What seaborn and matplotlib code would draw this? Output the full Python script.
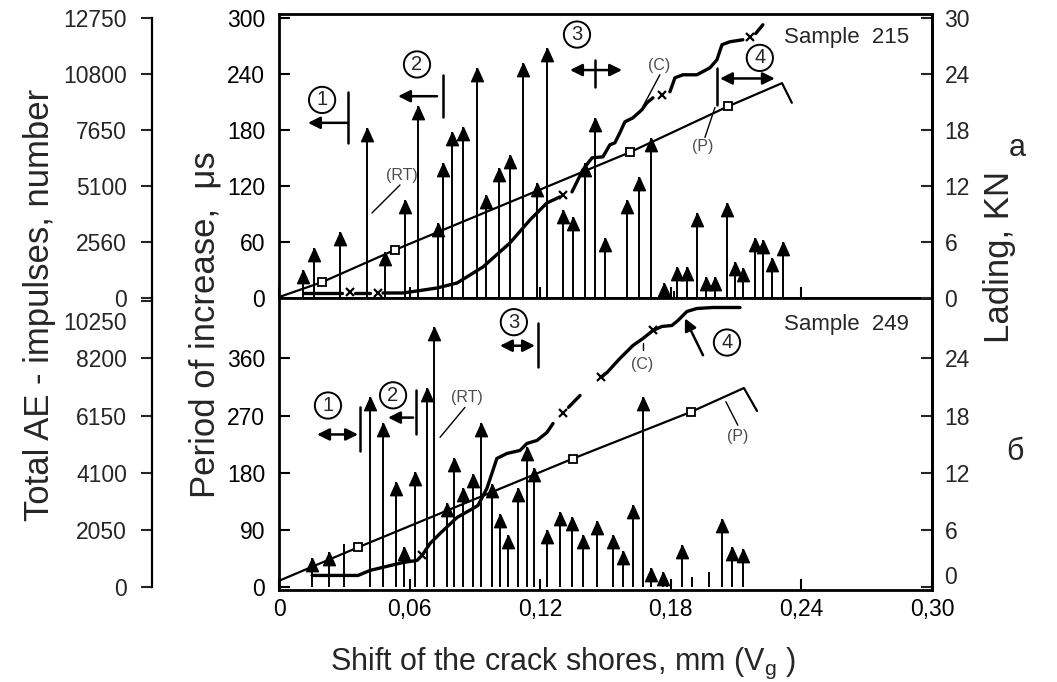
import numpy as np
import pandas as pd
import matplotlib
matplotlib.use("Agg")
import matplotlib.pyplot as plt
import matplotlib.transforms as mtrans
import seaborn as sns

# ---------------- data ----------------
# x axis: shift of crack shores, mm
x_ticks = [0, 0.06, 0.12, 0.18, 0.24, 0.30]
x_ticklabels = ["0", "0,06", "0,12", "0,18", "0,24", "0,30"]

# --- Sample 215 (top panel) ---
rt215_x = [0.0110, 0.0161, 0.0280, 0.0404, 0.0487, 0.0579, 0.0638, 0.0730, 0.0753, 0.0795,
           0.0845, 0.0910, 0.0951, 0.1011, 0.1061, 0.1121, 0.1185, 0.1231, 0.1305, 0.1350,
           0.1406, 0.1452, 0.1497, 0.1599, 0.1654, 0.1709, 0.1768, 0.1828, 0.1874, 0.1920,
           0.1961, 0.2003, 0.2058, 0.2095, 0.2131, 0.2187, 0.2223, 0.2265, 0.2315]
rt215_v = [30, 53, 71, 182, 49, 105, 205, 80, 144, 178,
           183, 246, 110, 139, 153, 252, 123, 268, 94, 87,
           145, 193, 64, 105, 130, 171, 16, 33, 33, 91,
           22, 22, 102, 39, 32, 64, 62, 43, 60]
stem215_x = [0.1814]
stem215_v = [8]

p215_x = [0.0, 0.0198, 0.0533, 0.1612, 0.2062, 0.2311, 0.2356]
p215_L = [0.1, 1.7, 5.15, 15.6, 20.5, 23.0, 20.9]
p215_sq = [1, 2, 3, 4]

c215_x = [0.0110, 0.0289,
          0.0349, 0.0418,
          0.0478, 0.0570, 0.0726, 0.0818, 0.0937, 0.1061, 0.1153, 0.1231, 0.1291,
          0.1346, 0.1396, 0.1438, 0.1488, 0.1520, 0.1543, 0.1566, 0.1589, 0.1626, 0.1667, 0.1690, 0.1718,
          0.1796, 0.1819, 0.1856, 0.1920, 0.1980, 0.2012, 0.2035, 0.2072, 0.2131,
          0.2190, 0.2223]
c215_ae = [228, 228,
           240, 240,
           228, 228, 455, 683, 1412, 2505, 3552, 4326, 4600,
           4827, 5829, 6376, 6421, 6968, 7059, 7514, 8015, 8197, 8562, 8880, 9108,
           9381, 10019, 10155, 10155, 10474, 10839, 11522, 11658, 11749,
           12030, 12430]
c215_seg = [0, 0,
            1, 1,
            2, 2, 2, 2, 2, 2, 2, 2, 2,
            3, 3, 3, 3, 3, 3, 3, 3, 3, 3, 3, 3,
            4, 4, 4, 4, 4, 4, 4, 4, 4,
            5, 5]
c215_mark_x = [0.0326, 0.0455, 0.1305, 0.1759, 0.2164]
c215_mark_ae = [273, 228, 4690, 9245, 11886]

# --- Sample 249 (bottom panel) ---
rt249_x = [0.0152, 0.0230, 0.0418, 0.0478, 0.0537, 0.0574, 0.0625, 0.0680, 0.0712, 0.0772,
           0.0804, 0.0845, 0.0891, 0.0928, 0.0978, 0.1015, 0.1052, 0.1098, 0.1139, 0.1171,
           0.1231, 0.1291, 0.1346, 0.1396, 0.1461, 0.1534, 0.1580, 0.1626, 0.1672, 0.1709,
           0.1764, 0.1851, 0.2035, 0.2081, 0.2131]
rt249_v = [47, 55, 299, 258, 165, 63, 181, 313, 409, 132,
           204, 156, 179, 258, 163, 116, 82, 156, 220, 187,
           90, 118, 110, 83, 105, 82, 58, 129, 299, 31,
           24, 66, 108, 63, 61]
stem249_x = [0.0299, 0.1782, 0.1897, 0.1975]
stem249_v = [69, 12, 16, 24]

p249_x = [0.0, 0.0363, 0.1350, 0.1893, 0.2136, 0.2196]
p249_L = [0.7, 4.2, 13.5, 18.4, 20.9, 18.5]
p249_sq = [1, 2, 3]

c249_x = [0.0152, 0.0363, 0.0418, 0.0570, 0.0634, 0.0657, 0.0694, 0.0740, 0.0818, 0.0891,
          0.0914, 0.0955, 0.1001, 0.1047, 0.1107, 0.1139, 0.1185, 0.1231, 0.1259,
          0.1330, 0.1383,
          0.1479, 0.1507, 0.1566, 0.1626, 0.1672, 0.1718, 0.1759, 0.1805, 0.1833, 0.1874,
          0.1920, 0.1994, 0.2118]
c249_ae = [430, 430, 609, 895, 967, 1146, 1575, 1933, 2506, 2828,
           2936, 3544, 4618, 4797, 4905, 5155, 5263, 5549, 5871,
           6450, 6874,
           7518, 7697, 8198, 8664, 8914, 9201, 9344, 9380, 9559, 9881,
           9988, 10024, 10024]
c249_seg = [0] * 19 + [1] * 2 + [2] * 13
c249_mark_x = [0.0657, 0.1305, 0.1479, 0.1718]
c249_mark_ae = [1146, 6229, 7518, 9201]

# axis ticks
per215_ticks = [0, 60, 120, 180, 240, 300]
lad215_ticks = [0, 6, 12, 18, 24, 30]
ae215_labels = ["0", "2560", "5100", "7650", "10800", "12750"]
per249_ticks = [0, 90, 180, 270, 360]
lad249_ticks = [0, 6, 12, 18, 24]
ae249_ticks = [0, 2050, 4100, 6150, 8200, 10250]

# scale ratios between axes of each panel
AE_PER_215 = 12750 / 300
LAD_PER_215 = 30 / 300
AE_PER_249 = 8200 / 360
LAD_PER_249 = 24 / 360

# ---------------- style ----------------
sns.set_theme(style="white")
plt.rcParams["font.family"] = ["Liberation Sans", "DejaVu Sans"]
plt.rcParams["mathtext.fontset"] = "custom"
plt.rcParams["mathtext.rm"] = "Liberation Sans"
plt.rcParams["mathtext.it"] = "Liberation Sans"
plt.rcParams["axes.edgecolor"] = "black"
plt.rcParams["axes.linewidth"] = 1.8

TICK_FS = 16.5
HEAD = [(0, 0), (-0.45, -1.0), (0.45, -1.0), (0, 0)]

fig = plt.figure(figsize=(10.57, 6.82), dpi=100)
W_PX, H_PX = 1057, 682
L = 279 / W_PX
R = 932 / W_PX
mid = 1 - 298 / H_PX
top = 1 - 14 / H_PX
bot = 1 - 590 / H_PX

ax_t = fig.add_axes([L, mid, R - L, top - mid])
ax_b = fig.add_axes([L, bot, R - L, mid - bot])

per_lim_t = (0, 304)
per_lim_b = (-4, 455)


def setup_panel(ax, per_lim, per_ticks, lad_ticks, lad_ratio, ae_ratio, ae_pos, ae_labels, show_x):
    ax.set_xlim(0, 0.30)
    ax.set_ylim(*per_lim)
    ax.set_xticks(x_ticks)
    ax.set_xticklabels(x_ticklabels if show_x else [])
    ax.set_yticks(per_ticks)
    ax.set_yticklabels([str(t) for t in per_ticks])
    ax.tick_params(axis="both", direction="in", length=8, width=1.5, labelsize=TICK_FS,
                   colors="black")
    ax.tick_params(axis="y", pad=10)
    ax.tick_params(axis="x", pad=6, bottom=True, labelbottom=show_x)
    for s in ax.spines.values():
        s.set_linewidth(2.0)
        s.set_color("black")

    axl = ax.twinx()
    axl.set_ylim(per_lim[0] * lad_ratio, per_lim[1] * lad_ratio)
    axl.set_yticks(lad_ticks)
    axl.set_yticklabels([str(t) for t in lad_ticks])
    axl.tick_params(axis="y", direction="in", length=8, width=1.5, labelsize=TICK_FS, pad=9,
                    right=True)
    for s in axl.spines.values():
        s.set_visible(False)
    axl.spines["right"].set_visible(True)
    axl.spines["right"].set_linewidth(2.0)
    axl.grid(False)

    axa = ax.twinx()
    axa.set_ylim(per_lim[0] * ae_ratio, per_lim[1] * ae_ratio)
    axa.yaxis.set_ticks_position("left")
    axa.yaxis.set_label_position("left")
    for s in axa.spines.values():
        s.set_visible(False)
    axa.spines["left"].set_visible(True)
    axa.spines["left"].set_position(("outward", 127 * 72 / 100))
    axa.spines["left"].set_linewidth(1.6)
    axa.set_yticks(ae_pos)
    axa.set_yticklabels(ae_labels)
    axa.tick_params(axis="y", direction="out", length=8, width=1.5, labelsize=TICK_FS, pad=10,
                    left=True, right=False, labelleft=True, labelright=False)
    axa.grid(False)
    return axl, axa


ae215_pos = [t * AE_PER_215 for t in per215_ticks]
axl_t, axa_t = setup_panel(ax_t, per_lim_t, per215_ticks, lad215_ticks, LAD_PER_215,
                           AE_PER_215, ae215_pos, ae215_labels, False)
axl_b, axa_b = setup_panel(ax_b, per_lim_b, per249_ticks, lad249_ticks, LAD_PER_249,
                           AE_PER_249, ae249_ticks, [str(t) for t in ae249_ticks], True)
axa_t.spines["left"].set_bounds(0, ae215_pos[-1])
axa_b.spines["left"].set_bounds(0, per_lim_b[1] * AE_PER_249)

# shift crowded labels (as in the reference)
for lbl in axa_b.get_yticklabels():
    if lbl.get_text() == "10250":
        lbl.set_transform(lbl.get_transform() +
                          mtrans.ScaledTranslation(0, -14 / 72, fig.dpi_scale_trans))
for lbl in axl_b.get_yticklabels():
    if lbl.get_text() == "0":
        lbl.set_transform(lbl.get_transform() +
                          mtrans.ScaledTranslation(0, 9 / 72, fig.dpi_scale_trans))


def draw_arrows(ax, xs, vs, sx, sv):
    ax.vlines(xs, 0, vs, color="black", lw=1.4, zorder=2)
    ax.vlines(sx, 0, sv, color="black", lw=1.4, zorder=2)
    ax.plot(xs, vs, ls="none", marker=HEAD, ms=19, color="black", mec="black", zorder=3)


draw_arrows(ax_t, rt215_x, rt215_v, stem215_x, stem215_v)
draw_arrows(ax_b, rt249_x, rt249_v, stem249_x, stem249_v)


def draw_load(axl, xs, ls, sq):
    sns.lineplot(x=xs, y=ls, ax=axl, color="black", lw=1.6, legend=False)
    axl.plot([xs[i] for i in sq], [ls[i] for i in sq], ls="none", marker="s", ms=6,
             mfc="white", mec="black", mew=1.3, zorder=4)


draw_load(axl_t, p215_x, p215_L, p215_sq)
draw_load(axl_b, p249_x, p249_L, p249_sq)


def draw_cum(axa, xs, ys, seg, mx, my):
    df = pd.DataFrame({"x": xs, "y": ys, "seg": seg})
    sns.lineplot(data=df, x="x", y="y", units="seg", estimator=None, ax=axa,
                 color="black", lw=2.4, legend=False)
    axa.plot(mx, my, ls="none", marker="x", ms=6, mew=1.6, color="black", zorder=4)
    axa.set_xlabel("")
    axa.set_ylabel("")


draw_cum(axa_t, c215_x, c215_ae, c215_seg, c215_mark_x, c215_mark_ae)
draw_cum(axa_b, c249_x, c249_ae, c249_seg, c249_mark_x, c249_mark_ae)
for a in (axl_t, axl_b, axa_t, axa_b):
    a.set_xlabel("")
    a.set_ylabel("")
    a.set_xlim(0, 0.30)

# ---------------- annotations ----------------
CIRC = dict(boxstyle="circle,pad=0.18", fc="white", ec="black", lw=1.4)


def circ(ax, x, y, s):
    ax.text(x, y, s, fontsize=14.5, ha="center", va="center", bbox=CIRC, zorder=6)


def harrow(ax, x0, x1, y, both=False):
    ax.annotate("", xy=(x1, y), xytext=(x0, y),
                arrowprops=dict(arrowstyle="<|-|>" if both else "-|>", color="black",
                                lw=1.8, mutation_scale=18, shrinkA=0, shrinkB=0), zorder=6)


def vmark(ax, x, y0, y1):
    ax.plot([x, x], [y0, y1], color="black", lw=1.8, zorder=6)


def tag(ax, x, y, s, lx0, ly0, lx1, ly1):
    ax.text(x, y, s, fontsize=11.5, color="#4d4d4d", ha="center", va="center", zorder=6)
    ax.plot([lx0, lx1], [ly0, ly1], color="black", lw=1.0, zorder=6)


# top panel
circ(ax_t, 0.0198, 212, "1")
harrow(ax_t, 0.0317, 0.0133, 187.5)
vmark(ax_t, 0.0317, 166, 220)
circ(ax_t, 0.0634, 250, "2")
harrow(ax_t, 0.0726, 0.0547, 216)
vmark(ax_t, 0.0753, 194, 239)
circ(ax_t, 0.1369, 282, "3")
harrow(ax_t, 0.1337, 0.1576, 244, both=True)
vmark(ax_t, 0.1452, 226, 255)
circ(ax_t, 0.2209, 257, "4")
harrow(ax_t, 0.2026, 0.2278, 235, both=True)
vmark(ax_t, 0.2012, 207, 246)
tag(ax_t, 0.1746, 249, "(C)", 0.1750, 239, 0.1672, 205)
tag(ax_t, 0.1948, 162, "(P)", 0.1957, 172, 0.2003, 204)
tag(ax_t, 0.0565, 131, "(RT)", 0.0556, 121, 0.0427, 91)
ax_t.text(0.2609, 279, "Sample  215", fontsize=16, ha="center", va="center")

# bottom panel
circ(ax_b, 0.0225, 286, "1")
harrow(ax_b, 0.0175, 0.0363, 240.5, both=True)
vmark(ax_b, 0.0372, 215, 283)
circ(ax_b, 0.0524, 302, "2")
harrow(ax_b, 0.0616, 0.0501, 267)
vmark(ax_b, 0.0629, 242, 310)
circ(ax_b, 0.1079, 417, "3")
harrow(ax_b, 0.1015, 0.1176, 380, both=True)
vmark(ax_b, 0.1190, 346, 415)
tag(ax_b, 0.0864, 299, "(RT)", 0.0854, 283, 0.0740, 236)
circ(ax_b, 0.2058, 385, "4")
ax_b.annotate("", xy=(0.1865, 423), xytext=(0.1948, 365),
              arrowprops=dict(arrowstyle="-|>", color="black", lw=1.8, mutation_scale=18,
                              shrinkA=0, shrinkB=0), zorder=6)
tag(ax_b, 0.1667, 351, "(C)", 0.1672, 385, 0.1672, 373)
tag(ax_b, 0.2108, 238, "(P)", 0.2108, 255, 0.2053, 292)
ax_b.text(0.2609, 414, "Sample  249", fontsize=16, ha="center", va="center")

# ---------------- axis titles ----------------
fig.text(40 / W_PX, 1 - 305 / H_PX, "Total AE - impulses, number", rotation=90,
         fontsize=25, ha="center", va="center")
fig.text(205 / W_PX, 1 - 325 / H_PX, "Period of increase,  \u03bcs", rotation=90,
         fontsize=25, ha="center", va="center")
fig.text(1000 / W_PX, 1 - 257 / H_PX, "Lading, KN", rotation=90,
         fontsize=25, ha="center", va="center")
fig.text(563 / W_PX, 1 - 663 / H_PX, r"Shift of the crack shores, mm (V$_{\mathrm{g}}$ )",
         fontsize=22, ha="center", va="center")
fig.text(1017 / W_PX, 1 - 148 / H_PX, "a", fontsize=22, ha="center", va="center")
fig.text(1015 / W_PX, 1 - 452 / H_PX, "\u0431", fontsize=22, ha="center", va="center")

fig.savefig("out.png", dpi=100)
